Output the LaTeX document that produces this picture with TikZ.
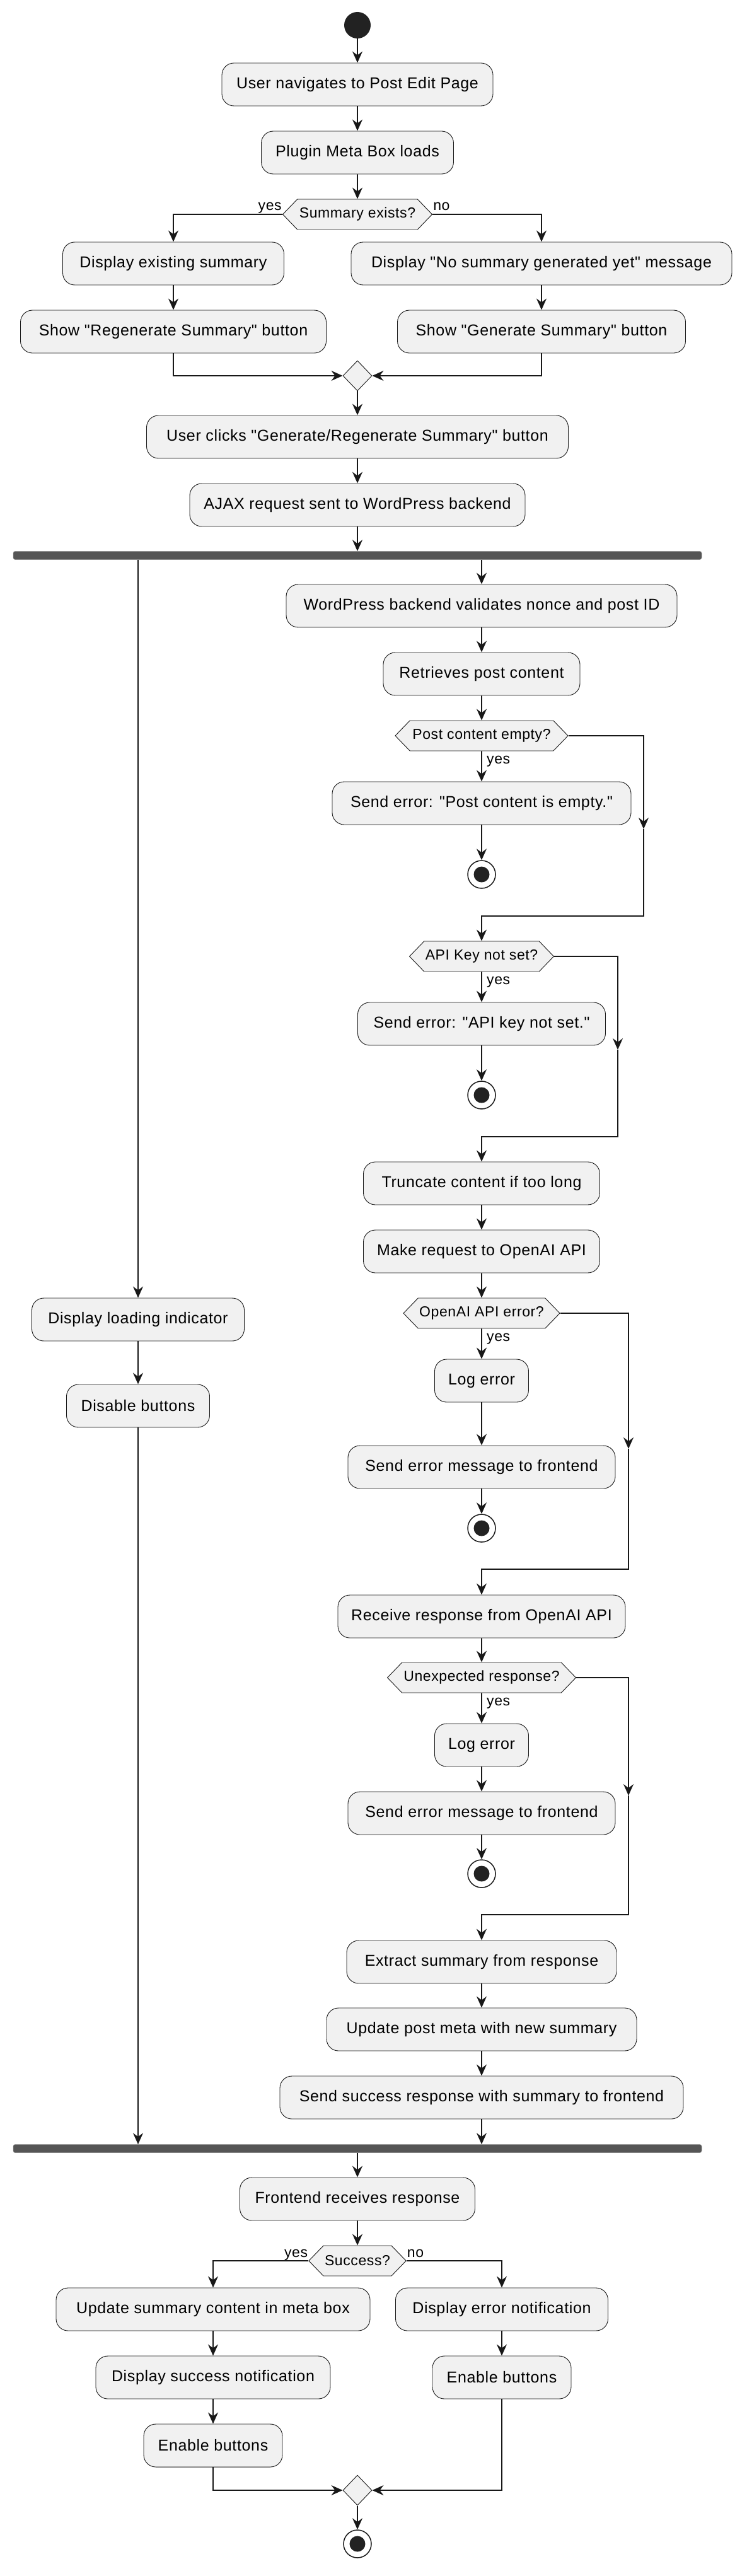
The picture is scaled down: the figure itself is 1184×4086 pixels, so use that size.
\documentclass[tikz,border=0pt]{standalone}
\usepackage{fontspec}
\setmainfont{Liberation Sans}[LetterSpace=2.6, Ligatures=TeXOff]
\usetikzlibrary{arrows.meta,shapes.symbols,shapes.geometric}
\definecolor{boxfill}{HTML}{F1F1F1}
\definecolor{ink}{HTML}{181818}
\definecolor{dot}{HTML}{222222}
\definecolor{barc}{HTML}{555555}
\newcommand\qq{\symbol{34}}
\begin{document}
\begin{tikzpicture}[x=1pt,y=-1pt,
 act/.style={rectangle, rounded corners=19pt, draw=ink, line width=0.9pt, fill=boxfill, minimum height=68pt, inner xsep=8pt, inner ysep=0pt, font=\fontsize{25}{30}\selectfont, text=black},
 hex/.style={signal, signal to=east and west, signal pointer angle=92, draw=ink, line width=0.9pt, fill=boxfill, minimum height=48pt, inner xsep=2pt, inner ysep=0pt, font=\fontsize{23}{27}\selectfont, text=black},
 merge/.style={diamond, draw=ink, line width=0.9pt, fill=boxfill, minimum width=46pt, minimum height=48pt, inner sep=0pt},
 startdot/.style={circle, fill=dot, minimum size=42pt, inner sep=0pt},
 enddot/.style={circle, draw=ink, line width=1.5pt, fill=white, minimum size=44pt, inner sep=0pt, path picture={\fill[dot] (path picture bounding box.center) circle (12.5pt);}},
 forkbar/.style={rectangle, fill=barc, draw=barc!70, line width=0.5pt, rounded corners=3pt, minimum width=1092pt, minimum height=13pt, inner sep=0pt},
 lbl/.style={font=\fontsize{23}{27}\selectfont, inner sep=0pt, text=black},
 arr/.style={draw=ink, line width=1.6pt, -{Stealth[length=18pt,width=16pt,inset=6pt]}},
]
\fill[white] (0,0) rectangle (1184,4086);
\useasboundingbox (0,0) rectangle (1184,4086);

% ---- nodes: top part
\node[startdot] (st) at (567,40) {};
\node[act, minimum width=430pt] (n1) at (567,134) {User navigates to Post Edit Page};
\node[act, minimum width=305pt] (n2) at (567,242) {Plugin Meta Box loads};
\node[hex, minimum width=237pt] (d1) at (567,340) {Summary exists?};
\node[act, minimum width=351pt] (n3) at (275,418) {Display existing summary};
\node[act, minimum width=604pt] (n4) at (859,418) {Display \qq No summary generated yet\qq{} message};
\node[act, minimum width=485pt] (n5) at (275,526) {Show \qq Regenerate Summary\qq{} button};
\node[act, minimum width=457pt] (n6) at (859,526) {Show \qq Generate Summary\qq{} button};
\node[merge] (m1) at (567,596) {};
\node[act, minimum width=669pt] (n7) at (567,693) {User clicks \qq Generate/Regenerate Summary\qq{} button};
\node[act, minimum width=532pt] (n8) at (567,801) {AJAX request sent to WordPress backend};
\node[forkbar] (fork1) at (567,881) {};

% ---- right column (backend)
\node[act, minimum width=620pt] (n9) at (764,961) {WordPress backend validates nonce and post ID};
\node[act, minimum width=312pt] (n10) at (764,1069) {Retrieves post content};
\node[hex, minimum width=274pt] (d2) at (764,1167) {Post content empty?};
\node[act, minimum width=474pt] (n11) at (764,1274) {Send error: \qq Post content is empty.\qq};
\node[enddot] (e1) at (764,1387) {};
\node[hex, minimum width=225pt] (d3) at (764,1517) {API Key not set?};
\node[act, minimum width=393pt] (n12) at (764,1624) {Send error: \qq API key not set.\qq};
\node[enddot] (e2) at (764,1737) {};
\node[act, minimum width=375pt] (n13) at (764,1877) {Truncate content if too long};
\node[act, minimum width=375pt] (n14) at (764,1985) {Make request to OpenAI API};
\node[hex, minimum width=242pt] (d4) at (764,2083) {OpenAI API error?};
\node[act, minimum width=149pt] (n15) at (764,2190) {Log error};
\node[act, minimum width=424pt] (n16) at (764,2327) {Send error message to frontend};
\node[enddot] (e3) at (764,2424) {};
\node[act, minimum width=456pt] (n17) at (764,2564) {Receive response from OpenAI API};
\node[hex, minimum width=299pt] (d5) at (764,2661) {Unexpected response?};
\node[act, minimum width=149pt] (n18) at (764,2768) {Log error};
\node[act, minimum width=424pt] (n19) at (764,2876) {Send error message to frontend};
\node[enddot] (e4) at (764,2972) {};
\node[act, minimum width=428pt] (n20) at (764,3112) {Extract summary from response};
\node[act, minimum width=492pt] (n21) at (764,3219) {Update post meta with new summary};
\node[act, minimum width=640pt] (n22) at (764,3327) {Send success response with summary to frontend};

% ---- left column (frontend)
\node[act, minimum width=337pt] (L1) at (219,2093) {Display loading indicator};
\node[act, minimum width=227pt] (L2) at (219,2230) {Disable buttons};

% ---- bottom part
\node[forkbar] (fork2) at (567,3408) {};
\node[act, minimum width=373pt] (n23) at (567,3488) {Frontend receives response};
\node[hex, minimum width=147pt] (d6) at (567,3586) {Success?};
\node[act, minimum width=498pt] (n24) at (338,3663) {Update summary content in meta box};
\node[act, minimum width=337pt] (n25) at (796,3663) {Display error notification};
\node[act, minimum width=372pt] (n26) at (338,3771) {Display success notification};
\node[act, minimum width=220pt] (n27) at (796,3771) {Enable buttons};
\node[act, minimum width=220pt] (n28) at (338,3879) {Enable buttons};
\node[merge] (m2) at (567,3950) {};
\node[enddot] (fin) at (567,4035) {};

% ---- loop coordinates
\coordinate (k1a) at (1021,1315); \coordinate (k1b) at (764,1453);
\coordinate (k2a) at (980,1665);  \coordinate (k2b) at (764,1803);
\coordinate (k3a) at (997,2298);  \coordinate (k3b) at (764,2489);
\coordinate (k4a) at (997,2848);  \coordinate (k4b) at (764,3037);

% ---- connectors: top
\draw[arr] (st) -- (n1);
\draw[arr] (n1) -- (n2);
\draw[arr] (n2) -- (d1);
\draw[arr] (d1.west) -| (n3.north);
\draw[arr] (d1.east) -| (n4.north);
\node[lbl, anchor=base east] (y1) at ([xshift=-1pt,yshift=6pt]d1.west) {yes};
\node[lbl, anchor=base west] (no1) at ([xshift=1pt,yshift=6pt]d1.east) {no};
\draw[arr] (n3) -- (n5);
\draw[arr] (n4) -- (n6);
\draw[arr] (n5.south) |- (m1.west);
\draw[arr] (n6.south) |- (m1.east);
\draw[arr] (m1) -- (n7);
\draw[arr] (n7) -- (n8);
\draw[arr] (n8.south) -- (fork1.north);
\draw[arr] (fork1.south -| n9.north) -- (n9.north);
\draw[arr] (fork1.south -| L1.north) -- (L1.north);

% ---- backend chain
\draw[arr] (n9) -- (n10);
\draw[arr] (n10) -- (d2);
\draw[arr] (d2) -- (n11);
\node[lbl, anchor=base west] (y2) at ([xshift=8pt,yshift=-20pt]d2.south) {yes};
\draw[arr] (n11) -- (e1);
\draw[arr] (d2.east) -| (k1a);
\draw[arr] (k1a) |- (k1b) -- (d3.north);

\draw[arr] (d3) -- (n12);
\node[lbl, anchor=base west] (y3) at ([xshift=8pt,yshift=-20pt]d3.south) {yes};
\draw[arr] (n12) -- (e2);
\draw[arr] (d3.east) -| (k2a);
\draw[arr] (k2a) |- (k2b) -- (n13.north);

\draw[arr] (n13) -- (n14);
\draw[arr] (n14) -- (d4);
\draw[arr] (d4) -- (n15);
\node[lbl, anchor=base west] (y4) at ([xshift=8pt,yshift=-20pt]d4.south) {yes};
\draw[arr] (n15) -- (n16);
\draw[arr] (n16) -- (e3);
\draw[arr] (d4.east) -| (k3a);
\draw[arr] (k3a) |- (k3b) -- (n17.north);

\draw[arr] (n17) -- (d5);
\draw[arr] (d5) -- (n18);
\node[lbl, anchor=base west] (y5) at ([xshift=8pt,yshift=-20pt]d5.south) {yes};
\draw[arr] (n18) -- (n19);
\draw[arr] (n19) -- (e4);
\draw[arr] (d5.east) -| (k4a);
\draw[arr] (k4a) |- (k4b) -- (n20.north);

\draw[arr] (n20) -- (n21);
\draw[arr] (n21) -- (n22);
\draw[arr] (n22.south) -- (fork2.north -| n22.south);

% ---- frontend chain
\draw[arr] (L1) -- (L2);
\draw[arr] (L2.south) -- (fork2.north -| L2.south);

% ---- bottom
\draw[arr] (fork2.south) -- (n23.north);
\draw[arr] (n23) -- (d6);
\draw[arr] (d6.west) -| (n24.north);
\draw[arr] (d6.east) -| (n25.north);
\node[lbl, anchor=base east] (y6) at ([xshift=-1pt,yshift=6pt]d6.west) {yes};
\node[lbl, anchor=base west] (no6) at ([xshift=1pt,yshift=6pt]d6.east) {no};
\draw[arr] (n24) -- (n26);
\draw[arr] (n26) -- (n28);
\draw[arr] (n25) -- (n27);
\draw[arr] (n28.south) |- (m2.west);
\draw[arr] (n27.south) |- (m2.east);
\draw[arr] (m2) -- (fin);
\end{tikzpicture}
\end{document}
